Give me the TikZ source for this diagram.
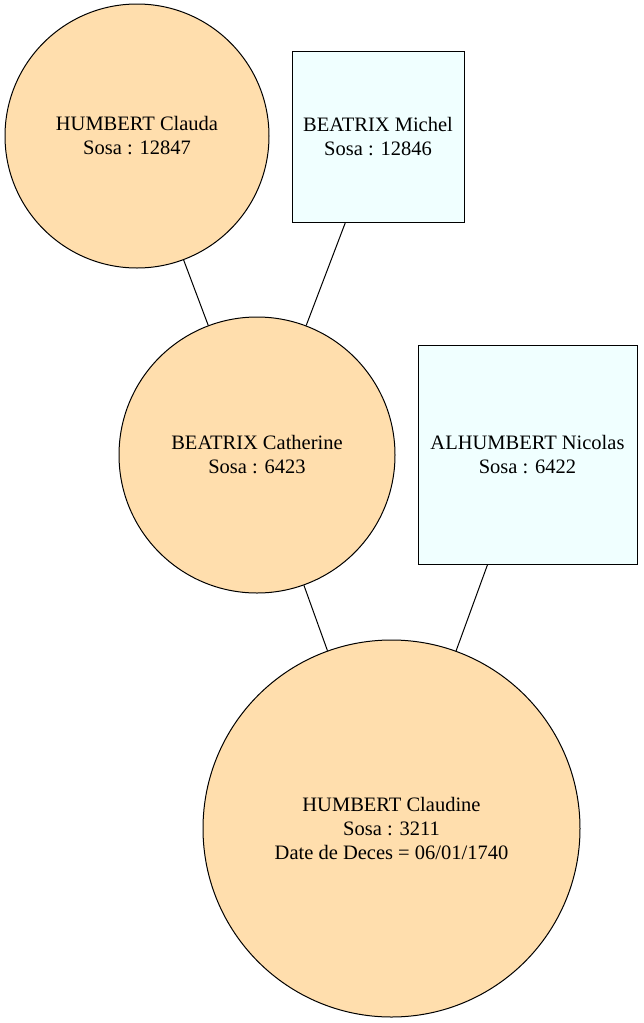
\documentclass[tikz,border=0pt]{standalone}
\usepackage{fontspec}
\setmainfont{Liberation Serif}
\definecolor{femme}{HTML}{FFDEAD}
\definecolor{homme}{HTML}{F0FFFF}
\tikzset{
  femmenode/.style={circle, draw, fill=femme, inner sep=0pt, align=center,
    font=\fontsize{20.5}{24}\selectfont},
  hommenode/.style={rectangle, draw, fill=homme, inner sep=0pt, align=center,
    font=\fontsize{20.5}{24}\selectfont},
}
\begin{document}
\begin{tikzpicture}[x=1pt, y=-1pt, line width=1pt]

    % Fix the frame of the picture
    \useasboundingbox (0,0) rectangle (643,1023);

    % Ancestors, upper row
    \node[femmenode, minimum size=264pt] (claude) at (137,136)
        {HUMBERT Clauda\\Sosa : 12847};
    \node[hommenode, minimum width=172pt, minimum height=171pt] (michel) at (378,136.5)
        {BEATRIX Michel\\Sosa : 12846};

    % Parents
    \node[femmenode, minimum size=276pt] (catherine) at (257,455)
        {BEATRIX Catherine\\Sosa : 6423};
    \node[hommenode, minimum width=219pt, minimum height=219pt] (nicolas) at (527.5,454.5)
        {ALHUMBERT Nicolas\\Sosa : 6422};

    % The person
    \node[femmenode, minimum size=377pt] (claudine) at (391.5,828.5)
        {HUMBERT Claudine\\Sosa : 3211\\Date de Deces = 06/01/1740};

    % Draw the links
    \draw (claude) -- (catherine);
    \draw (michel) -- (catherine);
    \draw (catherine) -- (claudine);
    \draw (nicolas) -- (claudine);

\end{tikzpicture}
\end{document}
